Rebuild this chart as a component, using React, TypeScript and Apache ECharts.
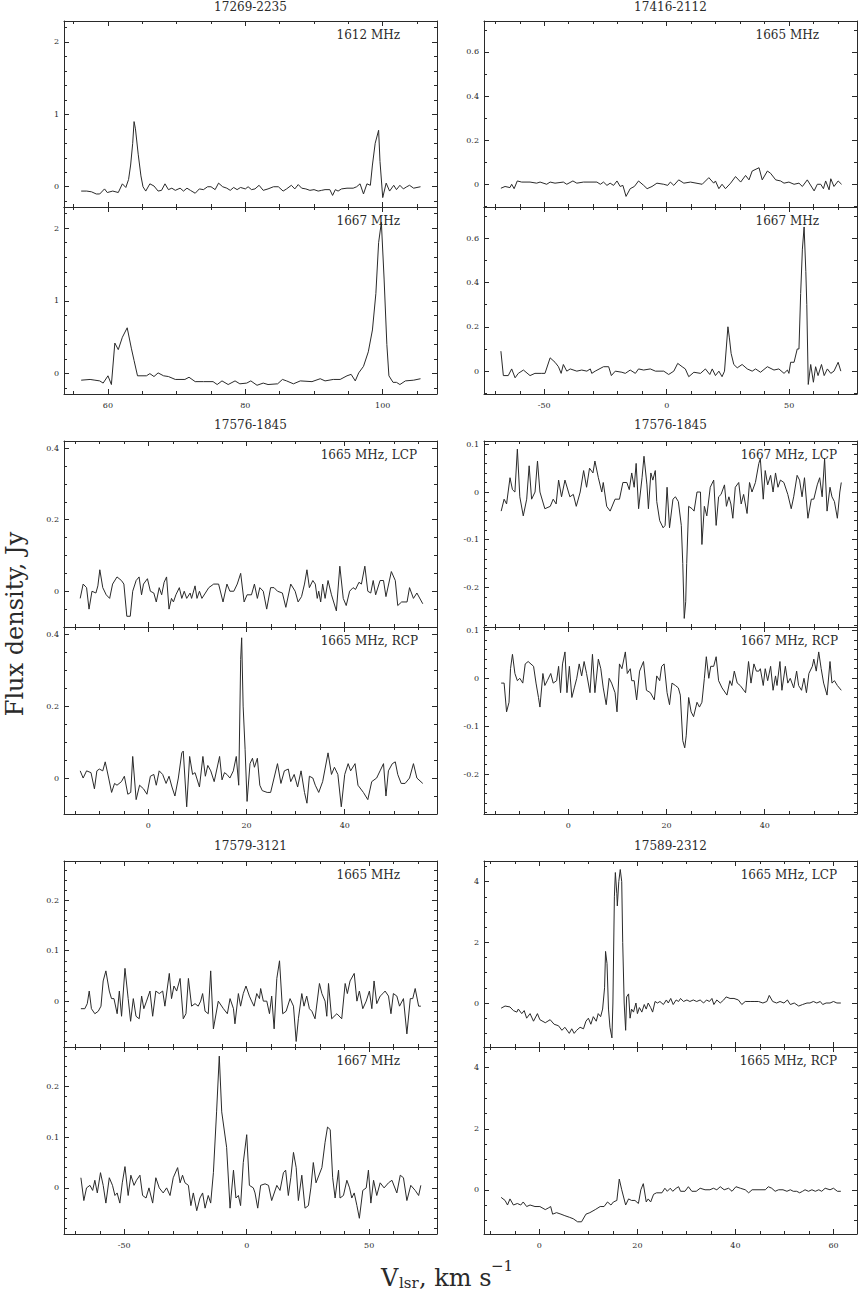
import React, { useEffect, useRef } from 'react';
import * as echarts from 'echarts';

const FONT = '"DejaVu Serif", "Liberation Serif", serif';
const INK = '#2a2a2a';

// ---------- source names ----------
const sourceTitles = ['17269-2235', '17416-2112', '17576-1845', '17576-1845', '17579-3121', '17589-2312'];

// ---------- spectra: [V_lsr (km/s), flux density (Jy)] ----------
const s17269_1612: number[][] = [
  [56.1,-0.06],[56.9,-0.06],[57.6,-0.07],[58.3,-0.1],[58.8,-0.1],[59.5,-0.03],[59.9,-0.08],[60.7,-0.06],[61.5,-0.08],[62.1,0.04],
  [62.6,-0.01],[63.0,0.1],[63.3,0.3],[63.6,0.6],[63.8,0.9],[64.0,0.8],[64.4,0.45],[64.8,0.15],[65.1,0.0],[65.5,-0.06],
  [66.1,0.04],[66.7,0.01],[67.3,-0.06],[67.8,-0.05],[68.3,0.04],[68.8,-0.04],[69.3,-0.02],[69.8,-0.05],[70.5,-0.02],[71.0,-0.06],
  [71.5,-0.02],[72.0,-0.05],[72.7,-0.09],[73.3,-0.03],[73.9,-0.04],[74.5,0.0],[75.0,0.0],[75.6,-0.04],[76.1,0.05],[76.7,0.0],
  [77.3,-0.02],[77.8,-0.05],[78.3,-0.01],[78.8,-0.04],[79.3,-0.01],[80.0,-0.03],[80.4,0.0],[80.9,-0.04],[81.4,-0.03],[82.0,0.02],
  [82.6,-0.05],[83.3,-0.03],[84.1,0.0],[84.8,0.0],[85.5,-0.06],[86.0,-0.03],[86.7,0.02],[87.2,-0.03],[87.7,0.03],[88.2,-0.02],
  [88.8,-0.03],[89.4,-0.05],[90.0,-0.04],[90.6,-0.06],[91.1,-0.05],[91.6,-0.04],[92.3,-0.04],[92.7,-0.12],[93.1,-0.04],[93.5,-0.06],
  [94.0,-0.03],[94.8,-0.02],[95.7,-0.02],[96.2,0.0],[96.7,0.04],[97.2,-0.1],[97.7,0.04],[98.2,0.02],[98.5,0.3],[98.9,0.6],
  [99.4,0.78],[99.6,0.35],[100.0,-0.15],[100.5,0.05],[101.0,-0.06],[101.6,0.02],[102.0,-0.04],[102.5,0.02],[103.0,-0.03],[103.5,0.0],
  [103.9,0.02],[104.5,-0.02],[105.5,0.0]
];
const s17269_1667: number[][] = [
  [56.1,-0.09],[57.4,-0.08],[58.1,-0.09],[58.8,-0.1],[59.3,-0.13],[60.0,-0.03],[60.5,-0.15],[61.0,0.42],[61.5,0.33],[62.1,0.5],
  [62.8,0.63],[63.4,0.35],[63.8,0.18],[64.3,-0.03],[65.6,-0.03],[66.1,0.0],[66.7,-0.04],[67.3,0.01],[68.1,-0.03],[68.8,-0.04],
  [69.8,-0.08],[71.2,-0.08],[71.8,-0.05],[72.7,-0.11],[73.9,-0.11],[75.3,-0.11],[75.9,-0.15],[76.6,-0.1],[77.5,-0.15],[78.5,-0.1],
  [79.2,-0.14],[80.2,-0.13],[80.8,-0.1],[81.7,-0.16],[82.6,-0.13],[83.3,-0.15],[84.7,-0.14],[85.4,-0.08],[86.0,-0.1],[87.0,-0.14],
  [88.0,-0.1],[89.7,-0.11],[90.9,-0.07],[91.6,-0.1],[92.8,-0.08],[93.8,-0.08],[94.8,-0.03],[95.4,-0.01],[96.0,-0.1],[96.5,0.01],
  [97.2,0.1],[97.9,0.3],[98.5,0.6],[99.0,1.1],[99.4,1.8],[99.8,2.08],[100.2,1.3],[100.6,0.4],[100.9,-0.03],[101.5,-0.12],
  [102.0,-0.12],[102.5,-0.15],[103.3,-0.1],[104.5,-0.09],[105.5,-0.07]
];
const s17416_1665: number[][] = [
  [-67.7,-0.018],[-66.0,-0.01],[-64.0,-0.015],[-63.3,0.0],[-62.3,-0.02],[-61.0,0.015],[-59.2,0.01],[-55.8,0.01],[-53.1,0.005],[-51.7,0.01],
  [-49.0,0.0],[-47.6,0.01],[-45.6,0.005],[-42.2,0.01],[-40.8,0.0],[-38.3,0.015],[-36.7,0.005],[-34.0,0.01],[-28.5,0.01],[-27.1,0.0],
  [-25.8,0.01],[-24.4,-0.005],[-23.1,0.005],[-21.7,-0.005],[-20.3,0.015],[-19.0,-0.01],[-17.9,-0.005],[-16.6,-0.055],[-14.9,-0.02],[-13.2,-0.01],
  [-11.5,0.015],[-9.4,-0.005],[-8.0,-0.02],[-6.0,-0.01],[-4.0,0.005],[-1.2,0.0],[0.4,-0.005],[1.5,0.01],[2.9,-0.005],[4.9,0.02],
  [7.0,0.005],[9.7,0.01],[14.5,0.0],[17.2,0.03],[19.2,0.005],[19.9,0.015],[21.3,-0.02],[22.6,0.0],[24.0,-0.02],[26.1,0.005],
  [28.1,0.035],[30.2,0.01],[32.2,0.04],[33.6,0.02],[34.9,0.06],[37.7,0.075],[39.0,0.02],[41.1,0.06],[42.4,0.05],[44.5,0.02],
  [46.5,0.015],[47.9,0.005],[49.9,0.01],[52.0,0.0],[54.0,0.005],[55.4,-0.01],[57.4,0.02],[60.2,-0.03],[61.5,0.0],[62.9,0.0],
  [64.0,-0.02],[64.9,0.015],[66.3,-0.025],[67.0,0.025],[68.3,-0.01],[70.0,0.015],[71.4,0.0]
];
const s17416_1667: number[][] = [
  [-67.7,0.09],[-66.7,-0.02],[-64.7,-0.02],[-63.3,0.01],[-61.9,-0.03],[-60.6,-0.01],[-58.5,0.005],[-55.8,-0.02],[-53.8,-0.01],[-51.0,-0.01],
  [-49.7,-0.01],[-47.6,0.06],[-45.6,0.04],[-44.2,0.02],[-43.1,-0.01],[-42.2,0.03],[-40.8,0.0],[-39.4,0.01],[-36.7,0.0],[-34.7,0.005],
  [-32.6,0.0],[-31.2,0.01],[-30.6,-0.01],[-29.2,0.0],[-25.8,0.02],[-23.7,0.02],[-22.6,-0.02],[-21.0,0.0],[-18.3,-0.005],[-16.9,-0.01],
  [-14.9,0.005],[-12.8,-0.01],[-11.5,0.01],[-9.4,0.005],[-6.7,0.01],[-4.6,0.0],[-1.2,0.0],[0.8,-0.015],[2.9,0.0],[4.5,0.035],
  [6.3,0.02],[7.6,0.01],[9.0,-0.025],[11.1,-0.005],[13.8,-0.01],[15.8,0.01],[17.6,-0.015],[18.6,0.01],[19.9,-0.02],[21.3,0.0],
  [22.6,-0.025],[23.6,0.0],[25.0,0.2],[25.6,0.15],[26.3,0.08],[27.4,0.03],[28.8,0.015],[30.8,0.03],[32.9,0.01],[34.9,0.0],
  [36.3,0.01],[38.3,-0.005],[41.1,0.02],[43.8,0.005],[45.8,0.01],[47.9,-0.01],[49.3,0.005],[49.9,-0.01],[50.6,0.04],[52.0,0.04],
  [53.3,0.1],[54.0,0.1],[54.7,0.35],[55.4,0.55],[56.1,0.65],[56.8,0.45],[57.2,0.3],[57.8,-0.06],[58.8,0.03],[59.9,-0.05],
  [60.8,0.02],[61.8,-0.02],[63.2,0.03],[64.3,-0.02],[65.6,0.01],[67.0,-0.01],[68.3,0.0],[70.0,0.04],[71.1,0.0]
];
const s17576_1665L: number[][] = [
  [-13.9,-0.02],[-13.3,0.02],[-12.6,0.01],[-12.1,-0.05],[-11.5,0.0],[-10.7,-0.005],[-10.3,0.015],[-9.9,0.06],[-9.3,0.01],[-8.6,-0.01],
  [-7.9,-0.02],[-7.3,0.02],[-6.4,0.04],[-5.5,0.03],[-5.0,0.02],[-4.4,-0.07],[-3.7,-0.07],[-3.2,0.0],[-2.5,0.03],[-1.9,0.04],
  [-1.4,-0.01],[-1.0,0.02],[-0.2,0.035],[0.4,0.0],[1.1,-0.005],[1.6,-0.03],[2.2,0.01],[2.7,-0.01],[3.2,0.025],[3.7,0.04],
  [4.2,-0.05],[4.7,-0.02],[5.1,-0.03],[5.6,-0.01],[6.3,0.01],[6.8,-0.02],[7.3,0.0],[7.8,-0.02],[8.5,-0.005],[8.8,-0.02],
  [9.5,0.015],[9.9,-0.02],[10.4,0.0],[10.9,-0.02],[11.6,-0.005],[12.3,0.01],[13.3,0.02],[14.3,0.02],[15.2,-0.03],[16.0,0.02],
  [16.6,0.0],[17.4,0.0],[18.1,0.02],[18.8,0.05],[19.5,-0.03],[20.1,-0.01],[21.0,-0.01],[21.6,0.02],[22.2,-0.02],[22.7,0.01],
  [23.4,0.0],[24.1,-0.05],[24.9,0.01],[25.6,0.01],[26.3,0.0],[27.3,-0.005],[28.0,-0.045],[29.0,0.02],[29.9,0.0],[30.5,-0.03],
  [31.2,-0.015],[31.8,0.02],[32.3,0.06],[32.8,0.01],[33.5,0.03],[34.0,0.02],[34.4,-0.02],[34.7,0.0],[35.1,-0.03],[35.5,0.02],
  [36.0,-0.02],[36.6,0.03],[37.3,-0.01],[38.3,-0.055],[39.0,0.07],[39.7,-0.02],[40.3,-0.04],[41.0,0.0],[41.7,0.01],[42.2,0.005],
  [42.9,0.025],[43.4,0.02],[44.1,0.07],[44.7,0.0],[45.3,-0.005],[45.8,0.03],[46.3,-0.01],[47.2,0.03],[47.9,0.03],[48.4,-0.015],
  [49.5,0.055],[50.3,0.03],[50.8,-0.04],[51.6,-0.03],[52.7,-0.03],[53.2,0.01],[54.0,-0.02],[54.7,-0.005],[55.9,-0.035]
];
const s17576_1665R: number[][] = [
  [-13.9,0.02],[-13.3,0.0],[-12.6,0.02],[-11.7,0.015],[-11.0,-0.03],[-10.5,0.02],[-10.0,0.025],[-9.3,0.02],[-8.8,0.045],[-8.1,0.0],
  [-7.5,-0.04],[-6.9,-0.015],[-6.4,-0.02],[-5.5,-0.01],[-4.9,0.005],[-4.2,-0.045],[-3.6,-0.04],[-3.2,0.06],[-2.5,-0.06],[-1.8,-0.02],
  [-1.0,-0.03],[-0.3,-0.045],[0.4,0.005],[1.1,0.01],[1.6,-0.02],[2.2,0.02],[2.9,0.01],[3.6,-0.015],[4.2,0.005],[4.8,-0.025],
  [5.4,-0.05],[6.1,0.0],[6.8,0.07],[7.1,0.075],[7.8,-0.08],[8.4,0.06],[9.0,0.01],[9.5,0.015],[10.4,-0.025],[11.1,0.06],
  [11.6,0.005],[12.1,0.035],[12.7,0.02],[13.4,-0.01],[14.5,0.06],[15.0,-0.005],[15.5,0.015],[16.0,0.01],[16.6,0.0],[17.3,0.02],
  [17.9,0.06],[18.4,-0.02],[18.8,0.33],[19.0,0.39],[19.3,0.2],[19.7,0.08],[20.1,-0.065],[20.7,0.04],[21.2,0.055],[21.6,0.03],
  [22.2,0.055],[22.7,-0.02],[23.2,-0.035],[24.2,-0.04],[24.9,-0.04],[25.6,0.0],[26.3,0.04],[27.0,-0.015],[27.7,0.02],[28.5,0.025],
  [29.0,-0.01],[29.7,0.01],[30.4,-0.025],[31.1,0.02],[31.8,-0.04],[32.3,-0.07],[32.8,0.005],[33.5,0.0],[34.0,-0.02],[34.7,-0.04],
  [35.5,-0.01],[36.6,0.07],[37.3,0.01],[37.9,0.03],[38.6,0.01],[39.3,-0.08],[40.0,0.01],[40.7,0.04],[41.2,0.02],[42.1,0.04],
  [42.7,-0.02],[43.8,-0.04],[44.7,-0.06],[45.5,-0.01],[46.5,0.0],[47.2,0.02],[47.9,0.04],[48.4,-0.05],[48.9,0.02],[49.7,0.04],
  [50.3,0.045],[50.8,0.01],[51.5,-0.015],[52.3,-0.015],[53.2,0.0],[54.0,0.04],[54.7,0.0],[55.9,-0.015]
];
const s17576_1667L: number[][] = [
  [-13.7,-0.04],[-13.1,-0.015],[-12.6,-0.025],[-11.9,0.03],[-11.4,0.005],[-10.9,0.0],[-10.4,0.09],[-9.9,-0.01],[-9.2,-0.05],[-8.5,-0.015],
  [-8.0,0.055],[-7.5,-0.015],[-6.8,0.0],[-6.3,0.065],[-5.8,0.0],[-4.8,-0.035],[-3.7,-0.03],[-3.1,-0.015],[-2.5,-0.025],[-2.0,0.025],
  [-1.4,-0.01],[-0.7,0.025],[0.3,-0.01],[1.0,-0.005],[1.6,-0.03],[2.4,0.0],[3.1,0.045],[3.7,0.01],[4.3,0.05],[5.0,0.04],
  [5.4,0.065],[6.1,0.03],[6.8,0.0],[7.1,0.02],[7.8,-0.03],[8.5,-0.04],[9.5,-0.015],[10.4,-0.015],[11.1,0.02],[11.9,0.02],
  [12.4,0.005],[12.9,0.04],[13.4,0.01],[13.8,0.06],[14.3,-0.035],[15.0,0.03],[15.4,0.075],[16.0,0.015],[16.3,-0.035],[16.8,0.04],
  [17.2,0.025],[17.7,0.045],[18.0,-0.02],[18.6,-0.06],[19.3,-0.075],[19.7,-0.07],[20.1,0.01],[20.6,-0.075],[21.3,-0.015],[21.8,-0.01],
  [22.4,-0.02],[23.0,-0.07],[23.3,-0.15],[23.6,-0.265],[23.9,-0.23],[24.1,-0.15],[24.5,-0.03],[25.2,-0.035],[25.6,-0.04],[26.2,0.0],
  [26.9,0.0],[27.2,-0.11],[27.7,-0.03],[28.2,-0.05],[28.9,0.01],[29.6,0.025],[30.1,-0.07],[30.6,-0.01],[31.1,-0.005],[31.8,0.015],
  [32.2,-0.03],[32.7,-0.01],[33.1,-0.025],[33.5,-0.055],[34.0,0.01],[34.7,0.02],[35.2,-0.025],[35.7,-0.005],[36.4,-0.045],[36.9,0.02],
  [37.4,0.0],[38.1,0.02],[38.8,0.06],[39.1,0.07],[39.7,-0.015],[40.1,0.045],[40.6,0.015],[41.2,0.035],[41.7,0.0],[42.2,0.04],
  [42.7,0.01],[43.2,0.025],[43.9,0.02],[44.7,-0.005],[45.4,-0.035],[45.9,-0.01],[46.6,0.035],[47.1,0.025],[47.6,-0.01],[48.1,0.03],
  [48.8,-0.055],[49.5,-0.015],[50.0,-0.015],[50.7,0.015],[51.2,0.03],[51.7,-0.01],[52.2,0.07],[52.7,-0.04],[53.3,0.01],[53.7,-0.01],
  [54.2,-0.02],[54.8,-0.055],[55.3,0.0],[55.6,0.02]
];
const s17576_1667R: number[][] = [
  [-13.7,-0.01],[-13.1,-0.01],[-12.6,-0.07],[-12.1,-0.05],[-11.8,0.02],[-11.4,0.05],[-10.9,0.01],[-10.4,-0.005],[-9.9,0.0],[-9.3,-0.01],
  [-8.8,0.03],[-8.2,0.035],[-7.1,0.025],[-6.6,-0.01],[-6.1,-0.04],[-5.8,-0.06],[-5.2,0.01],[-4.8,-0.015],[-4.3,-0.005],[-3.6,0.01],
  [-3.1,-0.01],[-2.4,-0.005],[-2.0,0.025],[-1.6,-0.03],[-1.2,0.03],[-0.7,0.055],[-0.3,-0.03],[0.2,0.025],[0.7,-0.04],[1.2,-0.02],
  [1.7,0.0],[2.2,0.03],[2.7,0.005],[3.2,0.035],[3.7,0.01],[4.4,-0.03],[4.9,0.05],[5.4,-0.03],[6.1,0.04],[6.6,0.02],
  [7.1,-0.02],[7.7,-0.055],[8.3,0.0],[8.8,-0.01],[9.5,-0.03],[9.9,-0.07],[10.4,0.03],[10.9,0.02],[11.6,0.055],[12.0,0.01],
  [12.6,0.02],[12.9,-0.005],[13.4,-0.005],[13.9,-0.045],[14.5,0.015],[15.3,0.035],[15.9,-0.025],[16.7,-0.03],[17.5,-0.045],[18.0,0.005],
  [18.6,-0.005],[19.0,0.025],[19.5,0.03],[20.1,-0.03],[20.6,-0.055],[21.1,-0.01],[21.8,-0.015],[22.4,-0.02],[22.8,-0.035],[23.3,-0.13],
  [23.7,-0.145],[24.0,-0.12],[24.5,-0.04],[25.0,-0.07],[25.5,-0.08],[26.2,-0.05],[26.7,-0.06],[27.2,-0.05],[27.7,0.0],[28.1,0.045],
  [28.6,0.0],[29.0,0.025],[29.6,0.025],[30.1,0.045],[30.6,-0.005],[31.3,-0.02],[32.3,-0.035],[32.9,-0.005],[33.3,-0.015],[33.8,0.015],
  [34.4,-0.01],[35.0,-0.015],[36.1,-0.03],[36.7,0.035],[37.2,-0.01],[37.8,0.03],[38.3,0.015],[38.8,0.015],[39.1,0.02],[39.7,-0.015],
  [40.1,0.02],[40.6,-0.005],[41.2,0.025],[41.7,-0.025],[42.2,0.005],[42.5,-0.015],[43.1,0.035],[43.5,-0.025],[44.2,0.025],[44.7,-0.01],
  [45.2,0.0],[45.9,-0.02],[46.5,0.015],[46.9,-0.015],[47.5,-0.025],[48.0,0.0],[48.5,-0.03],[49.0,0.01],[49.7,0.025],[50.0,0.04],
  [50.5,0.015],[51.0,0.055],[51.5,0.02],[52.0,-0.01],[52.7,-0.035],[53.3,0.035],[53.7,-0.01],[54.2,-0.005],[54.8,-0.015],[55.6,-0.025]
];
const s17579_1665: number[][] = [
  [-67.7,-0.015],[-66.1,-0.015],[-65.1,-0.005],[-64.3,0.02],[-63.4,-0.015],[-62.0,-0.025],[-60.6,-0.02],[-59.5,-0.01],[-58.6,0.04],[-57.5,0.06],
  [-56.1,0.02],[-55.2,0.005],[-54.2,0.005],[-52.9,-0.025],[-52.0,0.02],[-51.1,-0.03],[-49.7,0.065],[-48.4,0.005],[-47.4,-0.04],[-46.3,0.005],
  [-45.2,-0.03],[-43.9,-0.035],[-42.9,0.01],[-42.0,-0.015],[-40.9,0.0],[-39.5,0.02],[-38.4,-0.03],[-37.1,0.02],[-35.7,0.015],[-34.3,0.02],
  [-33.4,-0.01],[-31.6,0.055],[-30.7,0.005],[-29.7,0.03],[-28.6,0.02],[-27.2,0.045],[-25.9,-0.035],[-24.8,-0.025],[-23.8,0.045],[-22.5,-0.01],
  [-21.1,-0.005],[-19.8,-0.01],[-18.8,0.0],[-18.0,0.015],[-17.0,-0.02],[-15.7,-0.025],[-14.7,0.06],[-13.6,-0.055],[-11.6,0.0],[-9.5,-0.015],
  [-7.9,-0.025],[-6.8,0.005],[-5.4,-0.015],[-4.8,-0.045],[-3.4,0.015],[-2.5,-0.01],[-1.4,0.015],[-0.3,0.03],[1.1,0.01],[2.0,0.0],
  [3.0,-0.01],[4.1,0.015],[5.2,0.005],[5.7,0.025],[6.8,0.0],[8.2,0.0],[9.3,-0.025],[10.2,0.01],[11.2,-0.055],[12.3,0.045],
  [13.4,0.08],[14.7,-0.025],[16.1,-0.02],[17.7,0.005],[19.1,-0.01],[20.2,-0.08],[21.1,-0.035],[22.5,0.015],[23.4,-0.01],[24.5,0.01],
  [25.6,-0.015],[26.6,-0.02],[27.9,-0.035],[29.7,0.035],[30.7,0.015],[32.0,0.0],[32.7,-0.03],[33.4,0.035],[34.7,-0.035],[36.8,-0.025],
  [38.8,-0.035],[40.2,0.035],[41.1,0.015],[42.2,0.04],[43.9,0.055],[45.0,0.0],[46.0,0.02],[47.4,-0.015],[48.8,0.0],[50.1,0.02],
  [51.1,-0.015],[52.0,0.04],[53.1,-0.005],[54.5,0.01],[55.6,0.015],[56.5,0.02],[57.9,0.01],[58.9,-0.025],[59.9,0.015],[61.3,0.01],
  [62.4,-0.01],[64.0,0.005],[65.4,-0.065],[66.8,0.005],[67.8,0.005],[68.8,0.025],[70.2,-0.01],[71.1,-0.01]
];
const s17579_1667: number[][] = [
  [-67.7,0.02],[-66.5,-0.025],[-65.4,0.0],[-64.0,0.005],[-62.9,-0.005],[-62.0,0.015],[-61.0,-0.01],[-59.7,0.03],[-58.6,0.005],[-57.5,-0.03],
  [-56.1,0.02],[-54.8,0.005],[-53.8,-0.015],[-52.9,-0.01],[-51.8,-0.03],[-50.8,0.01],[-49.7,0.042],[-48.4,-0.015],[-47.3,0.025],[-46.0,0.005],
  [-45.0,0.015],[-43.6,0.025],[-42.5,-0.015],[-41.1,-0.02],[-39.9,0.0],[-38.4,-0.03],[-37.1,0.02],[-35.7,0.0],[-34.1,-0.01],[-32.7,0.0],
  [-31.3,-0.015],[-30.0,0.02],[-28.2,0.04],[-27.2,0.01],[-26.2,0.025],[-25.2,0.01],[-23.8,0.005],[-22.8,-0.035],[-21.8,-0.01],[-20.4,-0.045],
  [-19.1,-0.02],[-18.0,-0.01],[-17.0,-0.04],[-15.7,-0.015],[-14.7,-0.03],[-13.6,0.03],[-12.3,0.15],[-11.2,0.26],[-10.2,0.15],[-8.2,0.08],
  [-6.8,-0.04],[-5.4,0.035],[-4.4,-0.02],[-3.4,-0.015],[-2.5,-0.035],[-1.4,0.05],[0.0,0.105],[1.1,0.005],[2.7,0.0],[3.4,-0.01],
  [4.5,-0.04],[5.7,0.005],[7.5,0.008],[8.9,0.005],[10.2,-0.025],[12.3,0.005],[13.6,-0.005],[15.0,0.03],[15.9,0.035],[17.0,-0.015],
  [18.0,0.02],[19.1,0.07],[20.2,0.04],[21.1,-0.025],[22.5,0.025],[23.8,-0.04],[25.2,-0.035],[26.2,0.0],[27.2,0.05],[28.3,0.01],
  [30.7,0.04],[32.0,0.09],[33.0,0.12],[34.1,0.115],[35.1,0.02],[36.1,-0.02],[37.5,0.035],[38.1,-0.02],[39.5,-0.015],[40.9,0.015],
  [42.0,0.0],[42.9,-0.02],[43.9,-0.01],[45.0,-0.035],[46.0,-0.06],[47.4,-0.005],[48.8,0.0],[49.7,0.035],[50.7,-0.03],[51.8,0.015],
  [53.1,-0.015],[54.5,0.01],[56.1,0.0],[57.9,0.01],[59.3,0.015],[61.3,-0.01],[62.7,0.025],[64.0,0.02],[65.4,-0.025],[67.0,0.005],
  [68.8,-0.005],[70.2,-0.015],[71.1,0.005]
];
const s17589_1665L: number[][] = [
  [-7.8,-0.17],[-7.0,-0.1],[-6.0,-0.13],[-5.3,-0.25],[-4.6,-0.3],[-4.3,-0.2],[-3.6,-0.35],[-3.1,-0.25],[-2.6,-0.5],[-1.9,-0.35],
  [-1.2,-0.6],[-0.4,-0.35],[0.1,-0.55],[1.2,-0.65],[2.2,-0.55],[3.0,-0.7],[3.9,-0.75],[4.6,-0.9],[5.2,-0.8],[6.1,-1.0],
  [6.6,-0.85],[7.1,-1.0],[7.6,-0.9],[8.3,-0.8],[9.0,-0.85],[9.5,-0.6],[10.0,-0.5],[10.5,-0.7],[11.0,-0.45],[11.6,-0.6],
  [12.0,-0.35],[12.5,-0.45],[12.9,-0.2],[13.3,0.5],[13.5,1.7],[13.8,1.3],[14.1,-0.2],[14.4,-0.8],[14.8,-1.15],[15.0,0.0],
  [15.3,3.5],[15.5,4.3],[15.8,3.6],[15.9,3.2],[16.2,4.0],[16.5,4.4],[16.8,4.0],[17.0,2.0],[17.3,0.0],[17.6,-0.9],
  [17.8,0.2],[18.2,0.3],[18.5,-0.5],[18.8,-0.2],[19.2,-0.3],[19.7,0.0],[20.0,-0.35],[20.4,-0.15],[20.9,-0.3],[21.4,-0.05],
  [21.8,-0.2],[22.2,0.0],[22.7,-0.15],[23.1,-0.3],[23.6,0.05],[24.1,0.0],[24.6,0.05],[25.3,-0.05],[25.9,0.1],[26.3,0.0],
  [26.8,0.15],[27.3,-0.05],[27.9,0.1],[28.4,0.05],[28.8,0.15],[29.4,0.05],[30.1,0.1],[30.7,0.05],[31.4,0.1],[32.1,0.05],
  [32.8,0.1],[33.5,0.0],[34.1,0.1],[34.7,0.05],[35.2,0.15],[35.6,-0.05],[36.2,0.1],[36.9,0.0],[37.6,0.1],[38.1,0.2],
  [38.9,0.15],[39.7,0.15],[40.6,0.1],[41.3,-0.05],[42.0,0.05],[43.0,0.05],[43.8,0.05],[44.7,0.05],[45.6,0.0],[46.4,0.05],
  [46.9,0.25],[47.6,0.05],[48.4,0.0],[49.1,0.05],[49.9,0.0],[50.6,0.1],[51.2,-0.05],[52.0,0.0],[52.9,-0.1],[53.7,-0.05],
  [54.6,0.0],[55.2,0.0],[55.9,0.05],[56.6,0.0],[57.3,0.05],[57.8,-0.05],[58.5,0.0],[59.3,0.0],[60.0,0.05],[60.7,0.0],
  [61.5,0.0]
];
const s17589_1665R: number[][] = [
  [-7.8,-0.25],[-7.0,-0.35],[-6.5,-0.5],[-6.0,-0.3],[-5.3,-0.5],[-4.5,-0.45],[-3.8,-0.5],[-3.3,-0.4],[-2.6,-0.55],[-1.9,-0.5],
  [-0.9,-0.55],[0.1,-0.55],[1.2,-0.65],[1.8,-0.6],[2.3,-0.55],[2.7,-0.8],[3.5,-0.75],[4.4,-0.8],[5.2,-0.85],[6.1,-0.9],
  [6.9,-0.95],[7.8,-1.05],[8.6,-1.05],[9.5,-0.8],[10.3,-0.75],[11.4,-0.65],[12.4,-0.55],[13.2,-0.55],[13.9,-0.4],[14.6,-0.5],
  [15.1,-0.4],[15.8,-0.35],[16.3,0.35],[16.8,0.0],[17.6,-0.5],[18.2,-0.3],[18.8,-0.35],[19.5,-0.35],[20.2,-0.45],[20.7,0.0],
  [21.2,0.2],[21.8,-0.4],[22.2,-0.3],[22.7,-0.4],[23.3,-0.15],[23.9,-0.1],[25.0,-0.1],[25.6,0.05],[26.1,-0.05],[26.7,0.05],
  [27.2,-0.05],[27.9,0.05],[28.4,0.1],[28.8,-0.05],[29.7,-0.05],[30.4,0.1],[31.1,-0.05],[32.0,-0.05],[32.8,0.05],[33.8,0.0],
  [34.8,0.0],[35.5,0.05],[36.2,0.0],[36.9,0.1],[37.7,0.0],[38.6,0.05],[39.3,-0.05],[40.1,0.1],[41.0,0.05],[42.0,0.0],
  [42.7,-0.1],[43.4,0.0],[44.4,0.0],[46.1,0.0],[46.7,0.1],[47.4,0.05],[48.1,-0.05],[48.8,0.0],[49.7,0.0],[50.5,-0.05],
  [51.2,0.0],[51.8,-0.05],[52.5,-0.05],[53.1,-0.1],[53.7,-0.05],[54.2,0.0],[54.9,-0.05],[55.6,0.0],[56.3,-0.05],[57.0,0.0],
  [57.6,-0.05],[58.3,0.05],[59.3,0.0],[60.0,0.05],[60.8,-0.05],[61.5,-0.05]
];

// ---------- axis ranges and ticks ----------
const xRange17269 = [53.6, 107.9];
const xTicks17269 = [60, 80, 100];
const xMinor17269 = [55, 65, 70, 75, 85, 90, 95, 105];
const xRangeWide = [-74.6, 77.7];
const xTicksWide = [-50, 0, 50];
const xMinorWide = [-70, -60, -40, -30, -20, -10, 10, 20, 30, 40, 60, 70];
const xRange17576 = [-17.2, 58.8];
const xTicks17576 = [0, 20, 40];
const xMinor17576 = [-15, -10, -5, 5, 10, 15, 25, 30, 35, 45, 50, 55];
const xRange17589 = [-11.3, 64.8];
const xTicks17589 = [0, 20, 40, 60];
const xMinor17589 = [-10, -5, 5, 10, 15, 25, 30, 35, 45, 50, 55];

const yRange17269 = [-0.28, 2.29];
const yTicks17269 = [0, 1, 2];
const yMinor17269 = [-0.2, 0.2, 0.4, 0.6, 0.8, 1.2, 1.4, 1.6, 1.8, 2.2];
const yRange17416 = [-0.103, 0.74];
const yTicks17416 = [0, 0.2, 0.4, 0.6];
const yMinor17416 = [-0.1, 0.1, 0.3, 0.5, 0.7];
const yRange1665 = [-0.1, 0.42];
const yTicks1665 = [0, 0.2, 0.4];
const yMinor1665 = [-0.05, 0.05, 0.1, 0.15, 0.25, 0.3, 0.35];
const yRange1667 = [-0.283, 0.107];
const yTicks1667 = [-0.2, -0.1, 0, 0.1];
const yMinor1667 = [-0.28, -0.26, -0.24, -0.22, -0.18, -0.16, -0.14, -0.12, -0.08, -0.06, -0.04, -0.02, 0.02, 0.04, 0.06, 0.08];
const yRange17579 = [-0.091, 0.278];
const yTicks17579 = [0, 0.1, 0.2];
const yMinor17579 = [-0.08, -0.06, -0.04, -0.02, 0.02, 0.04, 0.06, 0.08, 0.12, 0.14, 0.16, 0.18, 0.22, 0.24, 0.26];
const yRange17589 = [-1.45, 4.68];
const yTicks17589 = [0, 2, 4];
const yMinor17589 = [-1, -0.5, 0.5, 1, 1.5, 2.5, 3, 3.5, 4.5];

// ---------- layout ----------
const COL_LEFT = [64, 484];
const BOX_W = 373;
const ROW_BOX = [[21, 186], [207, 187], [441, 186], [627, 187], [861, 186], [1047, 187]];
const TITLE_Y = [7, 425, 846];

type Panel = {
  col: number; row: number; data: number[][];
  xr: number[]; xt: number[]; xm: number[];
  yr: number[]; yt: number[]; ym: number[];
  xLabels: boolean; label: string; labelRight: number;
};

const panels: Panel[] = [
  { col: 0, row: 0, data: s17269_1612, xr: xRange17269, xt: xTicks17269, xm: xMinor17269, yr: yRange17269, yt: yTicks17269, ym: yMinor17269, xLabels: false, label: '1612 MHz', labelRight: 400 },
  { col: 0, row: 1, data: s17269_1667, xr: xRange17269, xt: xTicks17269, xm: xMinor17269, yr: yRange17269, yt: yTicks17269, ym: yMinor17269, xLabels: true, label: '1667 MHz', labelRight: 400 },
  { col: 1, row: 0, data: s17416_1665, xr: xRangeWide, xt: xTicksWide, xm: xMinorWide, yr: yRange17416, yt: yTicks17416, ym: yMinor17416, xLabels: false, label: '1665 MHz', labelRight: 819 },
  { col: 1, row: 1, data: s17416_1667, xr: xRangeWide, xt: xTicksWide, xm: xMinorWide, yr: yRange17416, yt: yTicks17416, ym: yMinor17416, xLabels: true, label: '1667 MHz', labelRight: 819 },
  { col: 0, row: 2, data: s17576_1665L, xr: xRange17576, xt: xTicks17576, xm: xMinor17576, yr: yRange1665, yt: yTicks1665, ym: yMinor1665, xLabels: false, label: '1665 MHz, LCP', labelRight: 417 },
  { col: 0, row: 3, data: s17576_1665R, xr: xRange17576, xt: xTicks17576, xm: xMinor17576, yr: yRange1665, yt: yTicks1665, ym: yMinor1665, xLabels: true, label: '1665 MHz, RCP', labelRight: 418 },
  { col: 1, row: 2, data: s17576_1667L, xr: xRange17576, xt: xTicks17576, xm: xMinor17576, yr: yRange1667, yt: yTicks1667, ym: yMinor1667, xLabels: false, label: '1667 MHz, LCP', labelRight: 837 },
  { col: 1, row: 3, data: s17576_1667R, xr: xRange17576, xt: xTicks17576, xm: xMinor17576, yr: yRange1667, yt: yTicks1667, ym: yMinor1667, xLabels: true, label: '1667 MHz, RCP', labelRight: 838 },
  { col: 0, row: 4, data: s17579_1665, xr: xRangeWide, xt: xTicksWide, xm: xMinorWide, yr: yRange17579, yt: yTicks17579, ym: yMinor17579, xLabels: false, label: '1665 MHz', labelRight: 400 },
  { col: 0, row: 5, data: s17579_1667, xr: xRangeWide, xt: xTicksWide, xm: xMinorWide, yr: yRange17579, yt: yTicks17579, ym: yMinor17579, xLabels: true, label: '1667 MHz', labelRight: 400 },
  { col: 1, row: 4, data: s17589_1665L, xr: xRange17589, xt: xTicks17589, xm: xMinor17589, yr: yRange17589, yt: yTicks17589, ym: yMinor17589, xLabels: false, label: '1665 MHz, LCP', labelRight: 837 },
  { col: 1, row: 5, data: s17589_1665R, xr: xRange17589, xt: xTicks17589, xm: xMinor17589, yr: yRange17589, yt: yTicks17589, ym: yMinor17589, xLabels: true, label: '1665 MHz, RCP', labelRight: 837 },
];

function axis(g: number, pos: string, range: number[], ticks: number[], len: number, line: boolean, labels: boolean, isX: boolean) {
  return {
    type: 'value', gridIndex: g, position: pos, min: range[0], max: range[1],
    axisLine: { show: line, onZero: false, lineStyle: { color: INK, width: 1 } },
    axisTick: { show: true, inside: true, length: len, customValues: ticks, lineStyle: { color: INK, width: 1 } },
    axisLabel: labels
      ? { show: true, customValues: ticks, margin: isX ? 7 : 5, fontFamily: FONT, fontSize: 8, color: INK }
      : { show: false },
    splitLine: { show: false },
    minorTick: { show: false },
    minorSplitLine: { show: false },
  };
}

function buildOption() {
  const grid: any[] = [];
  const xAxis: any[] = [];
  const yAxis: any[] = [];
  const series: any[] = [];
  const graphic: any[] = [];

  panels.forEach((p, g) => {
    const [top, h] = ROW_BOX[p.row];
    grid.push({ left: COL_LEFT[p.col], top, width: BOX_W, height: h, containLabel: false });
    xAxis.push(axis(g, 'bottom', p.xr, p.xt, 5, true, p.xLabels, true));
    xAxis.push(axis(g, 'top', p.xr, p.xt, 5, true, false, true));
    xAxis.push(axis(g, 'bottom', p.xr, p.xm, 3, false, false, true));
    xAxis.push(axis(g, 'top', p.xr, p.xm, 3, false, false, true));
    yAxis.push(axis(g, 'left', p.yr, p.yt, 5, true, true, false));
    yAxis.push(axis(g, 'right', p.yr, p.yt, 5, true, false, false));
    yAxis.push(axis(g, 'left', p.yr, p.ym, 3, false, false, false));
    yAxis.push(axis(g, 'right', p.yr, p.ym, 3, false, false, false));
    series.push({
      type: 'line', xAxisIndex: g * 4, yAxisIndex: g * 4, data: p.data,
      showSymbol: false, symbol: 'none', clip: true, silent: true,
      lineStyle: { color: INK, width: 1 },
    });
    graphic.push({
      type: 'text', x: p.labelRight, y: top + 14, silent: true,
      style: { text: p.label, font: `12px ${FONT}`, fill: INK, textAlign: 'right', textVerticalAlign: 'middle', align: 'right', verticalAlign: 'middle' },
    });
  });

  sourceTitles.forEach((t, i) => {
    const col = i % 2;
    const row = Math.floor(i / 2);
    graphic.push({
      type: 'text', x: COL_LEFT[col] + BOX_W / 2, y: TITLE_Y[row], silent: true,
      style: { text: t, font: `12px ${FONT}`, fill: INK, textAlign: 'center', textVerticalAlign: 'middle', align: 'center', verticalAlign: 'middle' },
    });
  });

  // axis titles
  graphic.push({
    type: 'text', x: 15, y: 624, rotation: Math.PI / 2, silent: true,
    style: { text: 'Flux density, Jy', font: `24px ${FONT}`, fill: INK, textAlign: 'center', textVerticalAlign: 'middle', align: 'center', verticalAlign: 'middle' },
  });
  const xt = (text: string, x: number, y: number, size: number) => ({
    type: 'text', x, y, silent: true,
    style: { text, font: `${size}px ${FONT}`, fill: INK, textAlign: 'left', textVerticalAlign: 'middle', align: 'left', verticalAlign: 'middle' },
  });
  graphic.push(xt('V', 381, 1278, 24));
  graphic.push(xt('lsr', 399, 1283, 15));
  graphic.push(xt(', km s', 419, 1278, 24));
  graphic.push(xt('\u22121', 491, 1266, 15));

  return { animation: false, grid, xAxis, yAxis, series, graphic };
}

export default function App() {
  const ref = useRef<HTMLDivElement>(null);
  useEffect(() => {
    if (!ref.current) return;
    const chart = echarts.init(ref.current, undefined, { renderer: 'svg' });
    chart.setOption(buildOption() as any);
    return () => chart.dispose();
  }, []);
  return (
    <div
      ref={ref}
      style={{ position: 'absolute', left: 0, top: 0, width: 858, height: 1291, background: '#ffffff' }}
    />
  );
}
